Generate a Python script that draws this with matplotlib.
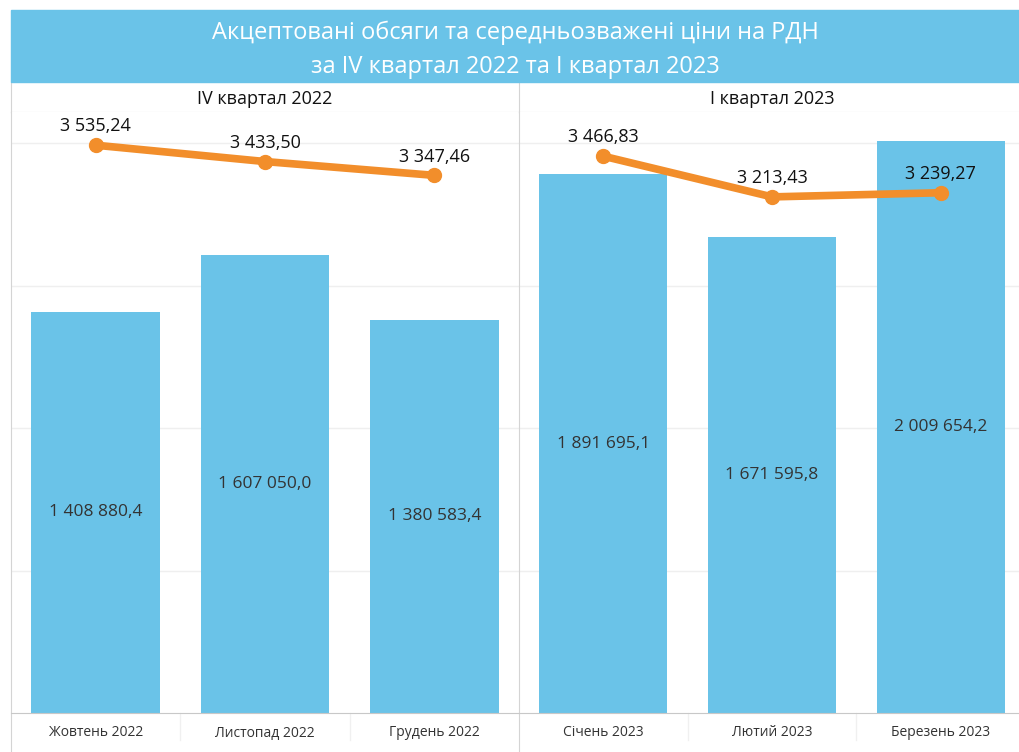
import matplotlib
matplotlib.use("Agg")
import matplotlib.pyplot as plt
import matplotlib.transforms as mtransforms
from matplotlib.patches import Rectangle

# data
quarters = ["IV квартал 2022", "I квартал 2023"]
months_q4 = ["Жовтень 2022", "Листопад 2022", "Грудень 2022"]
volumes_q4 = [1408880.4, 1607050.0, 1380583.4]
prices_q4 = [3535.24, 3433.50, 3347.46]
months_q1 = ["Січень 2023", "Лютий 2023", "Березень 2023"]
volumes_q1 = [1891695.1, 1671595.8, 2009654.2]
prices_q1 = [3466.83, 3213.43, 3239.27]
title = "Акцептовані обсяги та середньозважені ціни на РДН\nза IV квартал 2022 та I квартал 2023"

BLUE = "#6AC3E8"
ORANGE = "#F28E2B"
BORDER = "#D4D4D4"
GRID = "#EFEFEF"
FONT = ["Open Sans", "DejaVu Sans"]
NARROW = ["Liberation Sans Narrow", "Open Sans", "DejaVu Sans"]

W, H = 1020, 752
fig = plt.figure(figsize=(W / 100, H / 100), dpi=100)


def px_axes(x0, y0, x1, y1):
    # pixel box (top-left origin) -> figure axes
    return fig.add_axes([x0 / W, 1 - y1 / H, (x1 - x0) / W, (y1 - y0) / H])


def fmt(v, dec):
    s = f"{v:,.{dec}f}"
    return s.replace(",", " ").replace(".", ",")


# title banner
fig.patches.append(Rectangle((11 / W, 1 - 82 / H), 1 - 11 / W, 72 / H,
                             transform=fig.transFigure, color=BLUE, zorder=0))
fig.text((11 + W) / 2 / W, 1 - 50 / H, title, ha="center", va="center",
         color="white", fontsize=17, family=FONT, linespacing=1.55)

panels = [
    (11, 519, months_q4, volumes_q4, prices_q4),
    (519, 1025, months_q1, volumes_q1, prices_q1),
]

for (x0, x1, months, volumes, prices), qname in zip(panels, quarters):
    # header row
    hx = px_axes(x0, 82, x1, 112)
    hx.set_xticks([])
    hx.set_yticks([])
    for sp in hx.spines.values():
        sp.set_color(BORDER)
    hx.spines["top"].set_visible(False)
    hx.spines["right"].set_visible(False)
    hx.text(0.5, 0.45, qname, ha="center", va="center", fontsize=13,
            family=FONT, color="#111111", transform=hx.transAxes)

    ax = px_axes(x0, 112, x1, 713)
    xs = list(range(len(months)))
    ax.bar(xs, volumes, width=0.76, color=BLUE, zorder=2)
    ax.set_xlim(-0.5, len(months) - 0.5)
    ax.set_ylim(0, 2110000)
    ax.set_yticks([500000, 1000000, 1500000, 2000000])
    ax.yaxis.grid(True, color=GRID, linewidth=1)
    ax.set_axisbelow(True)
    ax.set_xticks(xs)
    ax.set_xticklabels(months, family=NARROW, fontsize=10, color="#333333")
    for sp in ["top", "right"]:
        ax.spines[sp].set_visible(False)
    ax.spines["left"].set_color(BORDER)
    ax.spines["bottom"].set_color("#C8C8C8")
    ax.spines["left"].set_bounds(-0.07 * 2110000, 2110000)
    for x, v in zip(xs, volumes):
        ax.text(x, v / 2, fmt(v, 1), ha="center", va="center", fontsize=12.5,
                family=FONT, color="#333333", zorder=3)

    # faint separators in the label row
    trans = mtransforms.blended_transform_factory(ax.transData, ax.transAxes)
    for x in xs[:-1]:
        ax.plot([x + 0.5, x + 0.5], [0, -0.045], transform=trans,
                color="#F0F0F0", linewidth=1, clip_on=False)

    tw = ax.twinx()
    tw.set_ylim(0, 3742)
    tw.plot(xs, prices, color=ORANGE, linewidth=5.5, marker="o",
            markersize=10, solid_capstyle="round", zorder=4)
    tw.set_yticks([])
    for sp in tw.spines.values():
        sp.set_visible(False)
    for x, p in zip(xs, prices):
        tw.annotate(fmt(p, 2), (x, p), xytext=(0, 7), textcoords="offset points",
                    ha="center", va="bottom", fontsize=13, family=FONT,
                    color="#111111")

    # twinx turns left ticks back on, so hide them afterwards
    ax.tick_params(axis="y", left=False, labelleft=False)
    ax.tick_params(axis="x", length=0, pad=9)

fig.savefig("out.png", dpi=100)
